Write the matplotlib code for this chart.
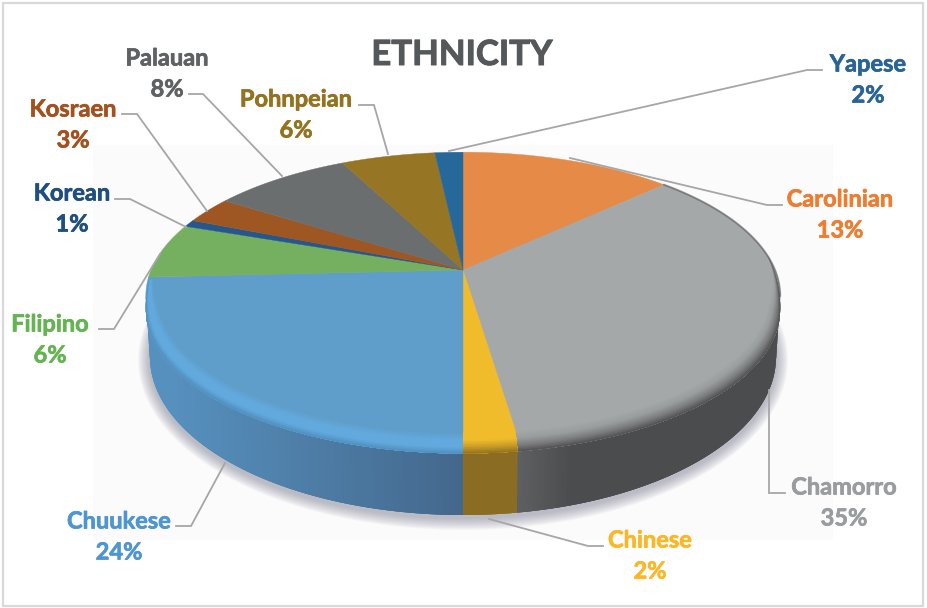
import numpy as np
import matplotlib.pyplot as plt
import matplotlib.patheffects as pe
from matplotlib.colors import to_rgb
from matplotlib.patches import Polygon, Rectangle

# Slices, clockwise from 12 o'clock
names = ['Carolinian', 'Chamorro', 'Chinese', 'Chuukese', 'Filipino',
         'Korean', 'Kosraen', 'Palauan', 'Pohnpeian', 'Yapese']
values = [12.9, 34.8, 2.3, 24.2, 6.2, 0.8, 3.0, 8.4, 5.7, 1.7]
slice_colors = ['#e68a47', '#a5a8a8', '#f1bc2c', '#5f9ecb', '#75b060',
                '#25568c', '#9e5622', '#6b6e6e', '#967525', '#27689b']
text_colors = ['#ed7d31', '#9a9da0', '#fbb725', '#4e96d2', '#66b354',
               '#1f4e80', '#a3521f', '#5f6163', '#937320', '#2a6496']

# Label centres (name line) and leader lines, in pixels
label_pos = [(840, 199), (844, 487), (650, 540), (119, 521), (50, 324),
             (72, 193), (73, 109), (167, 58), (296, 99), (868, 64)]
leaders = [
    [(782, 205), (767, 205), (570, 158)],
    [(785, 493), (769, 493), (769, 390)],
    [(603, 546), (588, 546), (489, 519)],
    [(176, 526), (191, 526), (225, 463)],
    [(99, 329), (114, 329), (160, 254)],
    [(115, 199), (130, 199), (186, 227)],
    [(122, 114), (137, 114), (207, 211)],
    [(189, 94), (203, 94), (282, 176)],
    [(359, 105), (374, 105), (388, 154)],
    [(822, 70), (807, 70), (449, 151)],
]

# Geometry of the tilted pie
cx, cy = 463, 270
A, B, K = 312, 139, 0.18
wall_rx, wall_cy, wall_ry = 313, 357, 158


def project(theta, r=1.0):
    # perspective view of a point on the pie top, theta clockwise from top
    w = 1 + K * r * np.cos(theta)
    return cx + A * r * np.sin(theta) / w, cy - B * r * np.cos(theta) / w


def wall_point(x):
    # point on the bottom edge of the wall below a top edge point at x
    bx = cx + (x - cx) * wall_rx / 317
    s = np.clip((bx - cx) / wall_rx, -1, 1)
    return bx, wall_cy + wall_ry * np.sqrt(1 - s ** 2)


def mix(c1, c2, t):
    c1, c2 = np.array(to_rgb(c1)), np.array(to_rgb(c2))
    return tuple(c1 + (c2 - c1) * t)


fig = plt.figure(figsize=(9.27, 6.08), dpi=100)
ax = fig.add_axes([0, 0, 1, 1])
ax.set_xlim(0, 927)
ax.set_ylim(608, 0)
ax.axis('off')

# Frame and the pale plot area
ax.add_patch(Rectangle((3.5, 2.5), 920, 603, fc='white', ec='#d9d9d9', lw=1.6, zorder=0))
ax.add_patch(Rectangle((93, 145), 740, 395, fc='#fbfbfc', ec='none', zorder=1))

# Soft shadow under the pie
t = np.linspace(0, 2 * np.pi, 300)
for k in range(12, 0, -1):
    ax.fill(cx + (wall_rx + k) * np.cos(t), wall_cy + 3 + (wall_ry + k) * np.sin(t),
            color='#7d7d90', alpha=0.05, lw=0, zorder=2)

edges = np.cumsum([0] + values) / sum(values) * 2 * np.pi
front_start, front_end = np.arccos(-K), 2 * np.pi - np.arccos(-K)

# Outer wall, strip by strip so the shade can change along it
wall_shades = {1: ('#4a4c4e', '#5f6163'), 2: ('#8a6d22', '#8a6d22'), 3: ('#44688c', '#5690be')}
for i, (dark, light) in wall_shades.items():
    a = max(edges[i], front_start)
    b = min(edges[i + 1], front_end)
    th = np.linspace(a, b, 120)
    x, y = project(th)
    bx, by = wall_point(x)
    for j in range(len(th) - 1):
        if i == 1:
            col = mix(light, dark, np.clip((x[j] - 515) / 60, 0, 1))
        elif i == 3:
            col = mix(dark, light, np.clip((cx - x[j]) / 290, 0, 1))
        else:
            col = to_rgb(dark)
        # each strip runs a little past the next one, which hides the seams
        e = min(j + 3, len(th) - 1)
        pts = list(zip(x[j:e + 1], y[j:e + 1])) + list(zip(bx[j:e + 1][::-1], by[j:e + 1][::-1]))
        ax.add_patch(Polygon(pts, fc=col, ec='none', zorder=3))

# Flat top of every slice
for i in range(len(values)):
    th = np.linspace(edges[i], edges[i + 1], 100)
    x, y = project(th)
    pts = [(cx, cy)] + list(zip(x, y))
    ax.add_patch(Polygon(pts, fc=slice_colors[i], ec=slice_colors[i], lw=0.3, zorder=4))

# Rounded lip between the top and the wall
lip_colors = {1: ['#a5a8a8', '#9a9d9d', '#7a7c7d', '#4a4c4e'],
              2: ['#f1bc2c', '#f1bc2c', '#c79a28', '#8a6d22'],
              3: ['#5f9ecb', '#62aade', '#62aade', '#4f8ab8']}
steps = 14
for i, cols in lip_colors.items():
    a = max(edges[i], front_start - 0.5 if i == 1 else 0)
    b = min(edges[i + 1], 2 * np.pi)
    th = np.linspace(a, b, 90)
    weight = np.clip((0.1 - np.cos(th)) / 0.35, 0, 1)
    x2, y2 = project(th)
    y2 = y2 + 14 * weight
    for s in range(steps):
        lo = s / steps
        r_in = 1 - 0.035 * weight * (1 - lo)
        x1, y1 = project(th, r_in)
        y1 = y1 + 14 * weight * lo
        pos = lo * (len(cols) - 1)
        n = min(int(pos), len(cols) - 2)
        col = mix(cols[n], cols[n + 1], pos - n)
        # painted inner to outer, every ring reaches the outer edge
        pts = list(zip(x1, y1)) + list(zip(x2[::-1], y2[::-1]))
        ax.add_patch(Polygon(pts, fc=col, ec='none', zorder=5))

# Dark rim on the far right edge of the grey slice
th = np.linspace(edges[1], front_start, 60)
x, y = project(th)
ax.plot(x, y, color='#4a4c4e', lw=1.4, alpha=0.55, zorder=5)

# Leader lines
for line in leaders:
    ax.plot([p[0] for p in line], [p[1] for p in line], color='#a6a6a6', lw=1.3,
            solid_joinstyle='miter', zorder=6)

# Labels
font = {'family': 'Lato', 'fontweight': 'bold', 'fontsize': 17, 'ha': 'center', 'va': 'center'}
for name, v, pos, col in zip(names, values, label_pos, text_colors):
    for txt, off in ((name, 0), (f'{v:.0f}%', 31)):
        label = ax.text(pos[0], pos[1] + off, txt, color=col, zorder=7, **font)
        label.set_path_effects([pe.withStroke(linewidth=0.5, foreground=col)])

title = ax.text(462, 55, 'ETHNICITY', family='Lato', fontweight='bold', fontsize=25,
                color='#54585a', ha='center', va='center', zorder=7)
title.set_path_effects([pe.withStroke(linewidth=0.7, foreground='#54585a')])

fig.savefig('out.png', dpi=100)
